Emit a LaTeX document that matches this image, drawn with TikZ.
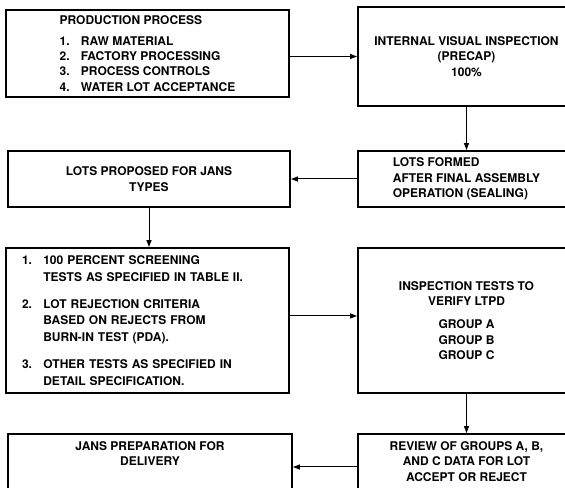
\documentclass[tikz,border=0pt]{standalone}
\usepackage{fontspec}
\setmainfont{TeX Gyre Heros}
\usetikzlibrary{arrows.meta,positioning}
\tikzset{every picture/.style={line width=0.75pt}}
\tikzset{
  flowbox/.style={draw, line width=1.5pt, inner sep=0pt, align=center},
  flowtext/.style={inner sep=0pt, align=center},
  flowarrow/.style={-{Triangle[length=5.2pt,width=3.8pt]}, line width=0.75pt},
}
\newcommand{\stepno}[1]{\makebox[16pt][l]{#1.}}

\begin{document}
\begin{tikzpicture}[x=0.75pt,y=0.75pt,yscale=-1,xscale=1,
  font=\fontsize{9}{11.5}\selectfont\bfseries]
\useasboundingbox (0,0) rectangle (565,488);
\clip (0,0) rectangle (565,488);

%Shape: Rectangle -- production process
\node (prod) [flowbox, align=left, minimum width=212.25pt, minimum height=65.25pt] at (147.5,53.5)
  {PRODUCTION PROCESS\\[4pt]
   \stepno{1}RAW MATERIAL\\
   \stepno{2}FACTORY PROCESSING\\
   \stepno{3}PROCESS CONTROLS\\
   \stepno{4}WATER LOT ACCEPTANCE};
%Shape: Rectangle -- precap inspection
\node (precap) [flowbox, minimum width=162.75pt, minimum height=74.25pt] at (466.5,56.5)
  {INTERNAL VISUAL INSPECTION\\(PRECAP)\\100\%};
%Shape: Rectangle -- lots proposed
\node (proposed) [flowbox, minimum width=211.5pt, minimum height=42pt] at (149,179)
  {LOTS PROPOSED FOR JANS\\TYPES};
%Shape: Rectangle -- lots formed
\node (formed) [flowbox, align=left, minimum width=162.75pt, minimum height=42pt] at (466.5,179)
  {LOTS FORMED\\AFTER FINAL ASSEMBLY\\OPERATION (SEALING)};
%Shape: Rectangle -- screening
\node (screen) [flowbox, align=left, inner xsep=12pt, text width=188.25pt,
  minimum height=108.75pt, font=\fontsize{9}{12.4}\selectfont\bfseries] at (147.5,320.5)
  {\stepno{1}100 PERCENT SCREENING\\
   \hspace*{16pt}TESTS AS SPECIFIED IN TABLE II.\\[8pt]
   \stepno{2}LOT REJECTION CRITERIA\\
   \hspace*{16pt}BASED ON REJECTS FROM\\
   \hspace*{16pt}BURN-IN TEST (PDA).\\[8pt]
   \stepno{3}OTHER TESTS AS SPECIFIED IN\\
   \hspace*{16pt}DETAIL SPECIFICATION.};
%Shape: Rectangle -- ltpd tests
\node (ltpd) [flowbox, minimum width=162.75pt, minimum height=108.75pt] at (466.5,320.5)
  {INSPECTION TESTS TO\\VERIFY LTPD\\[6pt]GROUP A\\GROUP B\\GROUP C};
%Shape: Rectangle -- delivery
\node (delivery) [flowbox, minimum width=213pt, minimum height=49.5pt] at (150,467) {};
%Shape: Rectangle -- review
\node (review) [flowbox, minimum width=162.75pt, minimum height=49.5pt] at (466.5,467) {};

% Text Node
\node (deliverytxt) [flowtext, below=6pt of delivery.north]
  {JANS PREPARATION FOR\\DELIVERY};
% Text Node
\node (reviewtxt) [flowtext, below=6pt of review.north]
  {REVIEW OF GROUPS A, B,\\AND C DATA FOR LOT\\ACCEPT OR REJECT};

%Straight Lines
\draw [flowarrow] (prod.east |- precap.west) -- (precap.west);
\draw [flowarrow] (precap.south) -- (formed.north);
\draw [flowarrow] (formed.west) -- (formed.west -| proposed.east);
\draw [flowarrow] (proposed.south) -- (proposed.south |- screen.north);
\coordinate (screenout) at ([yshift=-3.4pt]screen.east);
\draw [flowarrow] (screenout) -- (screenout -| ltpd.west);
\draw [flowarrow] (ltpd.south) -- (review.north);
\draw [flowarrow] (review.west) -- (review.west -| delivery.east);
\end{tikzpicture}
\end{document}
